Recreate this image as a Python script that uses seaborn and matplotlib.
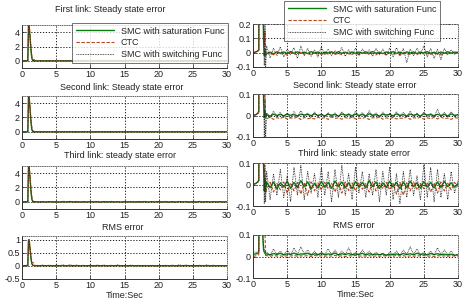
import numpy as np
import seaborn as sns
import matplotlib
matplotlib.use("Agg")
import matplotlib.pyplot as plt

# time stamps of the start-up transient, steady part follows from 2 s to 30 s
t_start = [0.0, 0.4, 0.7, 0.85, 0.95, 1.05, 1.15, 1.25, 1.35, 1.45, 1.55, 1.65, 1.75, 1.85]

series_names = ["SMC with saturation Func", "CTC", "SMC with switching Func"]
row_titles = ["First link: Steady state error", "Second link: Steady state error",
              "Third link: steady state error", "RMS error"]
x_ticks = [0, 5, 10, 15, 20, 25, 30]

# --- first link
sat_r1 = [0.0, 0.005, 0.012, 0.02, 4.9, 4.7, 3.6, 2.3, 1.1, 0.35, 0.08, -0.02, 0.01, -0.01,
          -0.006, 0.004, -0.008, 0.006, -0.003, 0.005, -0.007, 0.008, -0.004, 0.006, -0.005, 0.004,
          -0.006, 0.007, -0.003, 0.005, -0.008, 0.004, -0.002, 0.006, -0.005, 0.007, -0.004, 0.003,
          -0.006, 0.005, -0.007, 0.004, -0.003, 0.006, -0.005, 0.008, -0.004, 0.003, -0.006, 0.005,
          -0.003, 0.007, -0.005, 0.004, -0.008, 0.006, -0.003, 0.005, -0.006, 0.004, -0.002, 0.007,
          -0.005, 0.003, -0.006, 0.005, -0.004, 0.006, -0.003, 0.004, 0.001]
ctc_r1 = [0.0, 0.004, 0.01, 0.018, 4.6, 4.95, 3.9, 2.6, 1.4, 0.55, 0.18, 0.06, 0.15, -0.02,
          -0.012, -0.002, -0.015, 0.003, -0.010, -0.004, -0.018, 0.002, -0.008, -0.014, 0.004, -0.011,
          -0.006, -0.016, 0.001, -0.009, -0.013, -0.003, -0.010, 0.002, -0.012, -0.005, -0.015, 0.003,
          -0.008, -0.011, -0.002, -0.014, -0.006, 0.001, -0.012, -0.004, -0.016, 0.002, -0.009, -0.013,
          -0.003, -0.010, -0.006, -0.018, 0.001, -0.008, -0.012, -0.004, -0.014, 0.002, -0.010, -0.006,
          -0.013, -0.002, -0.011, -0.015, -0.004, -0.009, -0.003, -0.007, -0.002]
sw_r1 = [0.0, 0.005, 0.012, 0.02, 4.8, 4.8, 3.7, 2.4, 1.2, 0.4, 0.12, -0.09, 0.2, -0.1,
         0.045, -0.035, 0.03, -0.02, 0.04, -0.03, 0.025, -0.015, 0.035, -0.04, 0.045, -0.02,
         0.03, -0.025, 0.02, -0.03, 0.04, -0.015, 0.025, -0.02, 0.015, -0.01, 0.035, -0.025,
         0.02, -0.015, 0.03, -0.02, 0.025, -0.01, 0.02, -0.025, 0.03, -0.015, 0.025, -0.02,
         0.03, -0.03, 0.035, -0.02, 0.03, -0.07, 0.025, -0.02, 0.03, -0.01, 0.045, -0.03,
         0.03, -0.04, 0.025, -0.05, 0.03, -0.015, 0.02, -0.01, 0.005]

# --- second link
sat_r2 = [0.0, 0.004, 0.01, 0.02, 4.9, 4.6, 3.5, 2.2, 1.0, 0.3, 0.07, -0.01, 0.02, -0.005,
          0.004, -0.003, 0.006, 0.0, 0.005, -0.002, 0.007, 0.001, 0.004, -0.003, 0.006, 0.002,
          0.005, -0.001, 0.008, 0.0, 0.004, -0.002, 0.006, 0.001, 0.005, -0.003, 0.007, 0.002,
          0.004, -0.001, 0.006, 0.0, 0.005, -0.002, 0.008, 0.001, 0.004, -0.003, 0.006, 0.002,
          0.005, -0.001, 0.007, 0.0, 0.004, -0.002, 0.006, 0.001, 0.005, -0.003, 0.008, 0.002,
          0.004, -0.001, 0.006, 0.0, 0.005, -0.002, 0.007, 0.001, 0.003]
ctc_r2 = [0.0, 0.003, 0.008, 0.015, 4.5, 4.95, 3.9, 2.5, 1.3, 0.5, 0.2, 0.09, 0.1, -0.01,
          -0.015, -0.008, -0.018, -0.010, -0.014, -0.006, -0.017, -0.011, -0.013, -0.007, -0.019, -0.009,
          -0.015, -0.012, -0.016, -0.008, -0.014, -0.010, -0.018, -0.007, -0.013, -0.011, -0.017, -0.009,
          -0.015, -0.006, -0.016, -0.012, -0.014, -0.008, -0.019, -0.010, -0.013, -0.007, -0.017, -0.011,
          -0.015, -0.009, -0.016, -0.012, -0.014, -0.006, -0.018, -0.010, -0.013, -0.008, -0.017, -0.011,
          -0.015, -0.009, -0.016, -0.007, -0.014, -0.012, -0.018, -0.010, -0.012]
sw_r2 = [0.0, 0.004, 0.01, 0.02, 4.8, 4.7, 3.6, 2.3, 1.1, 0.35, 0.1, -0.1, 0.08, -0.1,
         0.012, -0.01, 0.02, -0.005, 0.015, -0.008, 0.01, -0.012, 0.018, -0.004, 0.022, -0.006,
         0.012, -0.01, 0.016, -0.003, 0.01, -0.008, 0.014, -0.005, 0.012, -0.006, 0.018, -0.004,
         0.01, -0.009, 0.02, -0.005, 0.014, -0.007, 0.022, -0.004, 0.012, -0.008, 0.016, -0.006,
         0.01, -0.01, 0.018, -0.003, 0.014, -0.007, 0.02, -0.005, 0.012, -0.008, 0.016, -0.004,
         0.01, -0.006, 0.028, -0.005, 0.014, -0.008, 0.018, -0.004, 0.006]

# --- third link
sat_r3 = [0.0, 0.005, 0.012, 0.02, 4.9, 4.7, 3.6, 2.3, 1.1, 0.35, 0.08, -0.03, 0.03, -0.02,
          0.01, -0.015, 0.012, -0.02, 0.008, -0.012, 0.015, -0.018, 0.01, -0.014, 0.018, -0.01,
          0.012, -0.02, 0.006, -0.016, 0.014, -0.012, 0.01, -0.018, 0.016, -0.01, 0.012, -0.015,
          0.008, -0.02, 0.014, -0.012, 0.01, -0.016, 0.018, -0.01, 0.012, -0.018, 0.008, -0.014,
          0.015, -0.012, 0.01, -0.02, 0.012, -0.015, 0.016, -0.01, 0.008, -0.018, 0.014, -0.012,
          0.01, -0.016, 0.012, -0.014, 0.015, -0.01, 0.008, -0.012, 0.004]
ctc_r3 = [0.0, 0.004, 0.01, 0.018, 4.6, 4.95, 3.9, 2.6, 1.4, 0.55, 0.18, 0.08, 0.05, -0.04,
          -0.02, 0.01, -0.035, 0.005, -0.025, 0.012, -0.04, 0.008, -0.03, 0.01, -0.045, 0.005,
          -0.05, 0.012, -0.03, 0.008, -0.025, 0.01, -0.02, 0.006, -0.035, 0.01, -0.04, 0.012,
          -0.028, 0.008, -0.03, 0.01, -0.022, 0.005, -0.035, 0.012, -0.03, 0.008, -0.02, 0.01,
          -0.025, 0.006, -0.045, 0.01, -0.05, 0.008, -0.03, 0.012, -0.025, 0.005, -0.02, 0.01,
          -0.035, 0.008, -0.04, 0.012, -0.03, 0.006, -0.025, 0.01, -0.01]
sw_r3 = [0.0, 0.005, 0.012, 0.02, 4.8, 4.8, 3.7, 2.4, 1.2, 0.4, 0.12, -0.09, 0.09, -0.08,
         0.06, -0.07, 0.05, -0.05, 0.07, -0.06, 0.04, -0.08, 0.08, -0.05, 0.09, -0.07,
         0.06, -0.04, 0.05, -0.06, 0.08, -0.05, 0.06, -0.08, 0.07, -0.06, 0.09, -0.05,
         0.05, -0.07, 0.08, -0.04, 0.06, -0.06, 0.05, -0.05, 0.07, -0.08, 0.06, -0.05,
         0.08, -0.07, 0.05, -0.09, 0.06, -0.06, 0.07, -0.05, 0.04, -0.07, 0.09, -0.06,
         0.08, -0.08, 0.07, -0.06, 0.05, -0.07, 0.06, -0.04, 0.02]

# --- RMS error
sat_r4 = [0.01, 0.012, 0.015, 0.02, 1.0, 0.95, 0.7, 0.45, 0.22, 0.08, 0.03, 0.02, 0.015, 0.01,
          0.012, 0.008, 0.014, 0.009, 0.015, 0.007, 0.013, 0.01, 0.016, 0.008, 0.012, 0.011,
          0.015, 0.007, 0.013, 0.009, 0.014, 0.008, 0.012, 0.01, 0.016, 0.007, 0.013, 0.009,
          0.014, 0.008, 0.012, 0.01, 0.015, 0.007, 0.013, 0.009, 0.011, 0.008, 0.012, 0.006,
          0.01, 0.008, 0.012, 0.007, 0.014, 0.009, 0.013, 0.008, 0.015, 0.01, 0.012, 0.007,
          0.014, 0.009, 0.013, 0.008, 0.011, 0.007, 0.01, 0.006, 0.008]
ctc_r4 = [0.0, 0.003, 0.005, 0.01, 0.9, 1.02, 0.8, 0.55, 0.3, 0.12, 0.14, 0.12, 0.11, 0.005,
          0.004, 0.001, 0.005, 0.002, 0.003, 0.0, 0.004, 0.002, 0.005, 0.001, 0.003, 0.002,
          0.004, 0.0, 0.005, 0.002, 0.003, 0.001, 0.004, 0.002, 0.005, 0.001, 0.003, 0.0,
          0.004, 0.002, 0.005, 0.001, 0.003, 0.002, 0.004, 0.0, 0.003, 0.001, 0.004, 0.002,
          0.003, 0.001, 0.005, 0.002, 0.004, 0.0, 0.003, 0.001, 0.004, 0.002, 0.005, 0.001,
          0.003, 0.0, 0.004, 0.002, 0.003, 0.001, 0.004, 0.002, 0.003]
sw_r4 = [0.02, 0.02, 0.02, 0.025, 0.95, 0.98, 0.75, 0.5, 0.25, 0.1, 0.05, 0.03, 0.025, 0.02,
         0.02, 0.005, 0.035, 0.01, 0.025, 0.008, 0.03, 0.006, 0.04, 0.01, 0.045, 0.012,
         0.03, 0.008, 0.025, 0.005, 0.02, 0.01, 0.035, 0.008, 0.03, 0.006, 0.025, 0.01,
         0.04, 0.008, 0.02, 0.005, 0.03, 0.01, 0.025, 0.006, 0.02, 0.008, 0.015, 0.005,
         0.02, 0.01, 0.025, 0.006, 0.03, 0.008, 0.045, 0.01, 0.035, 0.005, 0.02, 0.008,
         0.025, 0.006, 0.04, 0.01, 0.03, 0.008, 0.025, 0.005, 0.01]

rows = [(sat_r1, ctc_r1, sw_r1), (sat_r2, ctc_r2, sw_r2),
        (sat_r3, ctc_r3, sw_r3), (sat_r4, ctc_r4, sw_r4)]

left_ylims = [(-1, 5), (-1, 5), (-1, 5), (-0.5, 1.15)]
left_yticks = [[0, 2, 4], [0, 2, 4], [0, 2, 4], [-0.5, 0, 0.5, 1]]
left_ylabels = [["0", "2", "4"]] * 3 + [["-0.5", "0", "0.5", "1"]]
right_ylims = [(-0.1, 0.2), (-0.1, 0.1), (-0.1, 0.1), (-0.1, 0.1)]
right_yticks = [[-0.1, 0, 0.1, 0.2], [-0.1, 0, 0.1], [-0.1, 0, 0.1], [-0.1, 0, 0.1]]
right_ylabels = [["-0.1", "0", "0.1", "0.2"]] + [["-0.1", "0", "0.1"]] * 3

styles = [dict(color="#0b7a12", lw=1.0, ls="-"),
          dict(color="#b8481c", lw=0.8, ls=(0, (3, 1.5))),
          dict(color="#222222", lw=0.6, ls=(0, (1, 1)))]

sns.set_theme(style="white")
plt.rcParams["font.family"] = ["Liberation Sans", "DejaVu Sans"]

W, H = 471, 306
fig = plt.figure(figsize=(W / 100, H / 100), dpi=100)


def add_axes(x0, top, x1, bottom):
    return fig.add_axes([x0 / W, 1 - bottom / H, (x1 - x0) / W, (bottom - top) / H])


def time_for(n):
    return np.concatenate([t_start, np.linspace(2.0, 30.0, n - len(t_start))])


def style_axes(ax, ylim, yticks, ylabels):
    ax.set_xlim(0, 30)
    ax.set_ylim(*ylim)
    ax.set_xticks(x_ticks)
    ax.set_xticklabels([str(v) for v in x_ticks])
    ax.set_yticks(yticks)
    ax.set_yticklabels(ylabels)
    ax.set_xlabel("")
    ax.set_ylabel("")
    ax.tick_params(direction="in", length=2, width=0.5, labelsize=6.5, pad=1.5,
                   colors="#222222", bottom=True, left=True)
    ax.grid(True, color="black", linestyle=(0, (1.5, 2)), linewidth=0.6)
    for side in ["left", "bottom"]:
        ax.spines[side].set_color("#333333")
        ax.spines[side].set_linewidth(0.7)
    for side in ["top", "right"]:
        ax.spines[side].set_color("#555555")
        ax.spines[side].set_linewidth(0.6)
        ax.spines[side].set_linestyle(":")


left_tops = [25, 96, 166, 236]
right_tops = [24, 94, 163, 235]
for i, series in enumerate(rows):
    ax_l = add_axes(22, left_tops[i], 227, left_tops[i] + 43)
    ax_r = add_axes(253, right_tops[i], 458, right_tops[i] + 43)
    for ax in (ax_l, ax_r):
        for vals, name, st in zip(series, series_names, styles):
            sns.lineplot(x=time_for(len(vals)), y=vals, ax=ax, label=name, sort=False,
                         estimator=None, color=st["color"], linewidth=st["lw"], linestyle=st["ls"])
        if ax.get_legend() is not None:
            ax.get_legend().remove()
    style_axes(ax_l, left_ylims[i], left_yticks[i], left_ylabels[i])
    style_axes(ax_r, right_ylims[i], right_yticks[i], right_ylabels[i])

    if i == 0:
        for ax, (lx, ly) in ((ax_l, (72, 23)), (ax_r, (284, 1))):
            leg = ax.legend(loc="upper left", bbox_to_anchor=(lx / W, 1 - ly / H),
                            bbox_transform=fig.transFigure, fontsize=6.5, frameon=True,
                            fancybox=False, handlelength=4.2, labelspacing=0.3,
                            borderpad=0.4, borderaxespad=0)
            leg.get_frame().set_edgecolor("#333333")
            leg.get_frame().set_linewidth(0.6)
            leg.set_zorder(10)
    if i == 3:
        for ax in (ax_l, ax_r):
            ax.set_xlabel("Time:Sec", fontsize=6.5, labelpad=1, color="#222222")

# row titles (left column and right column, first right one hidden by the legend)
title_pos_left = [(110, 10), (122, 88), (120, 156), (123, 228)]
title_pos_right = [None, (355, 85), (354, 154), (354, 225)]
for txt, pl, pr in zip(row_titles, title_pos_left, title_pos_right):
    fig.text(pl[0] / W, 1 - pl[1] / H, txt, ha="center", va="center", fontsize=6.5, color="#222222")
    if pr is not None:
        fig.text(pr[0] / W, 1 - pr[1] / H, txt, ha="center", va="center", fontsize=6.5, color="#222222")

fig.savefig("out.png", dpi=100)
